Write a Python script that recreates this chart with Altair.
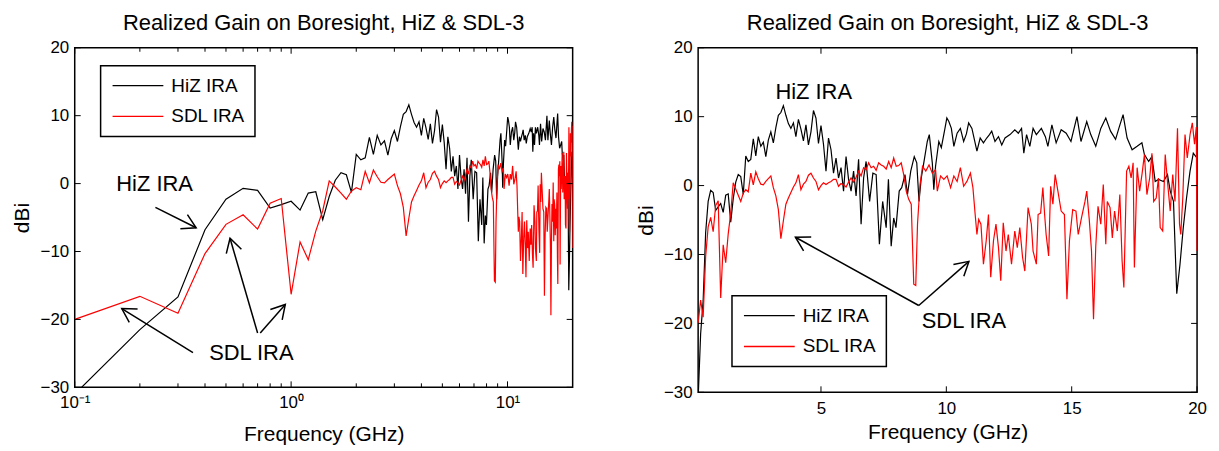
import math
import altair as alt
import pandas as pd

FONT = "Liberation Sans"
TITLE = "Realized Gain on Boresight, HiZ & SDL-3"
XTITLE = "Frequency (GHz)"
YTITLE = "dBi"
SERIES = ["HiZ IRA", "SDL IRA"]
COLORS = ["#000000", "#ff0000"]

# ---------------- data ----------------
hiz_freq = [0.1, 0.2, 0.3, 0.4, 0.5, 0.6, 0.7, 0.8, 0.9, 1.0, 1.1, 1.2, 1.3, 1.4, 1.5, 1.6, 1.7, 1.8, 1.9, 2.0,
            2.1, 2.2, 2.3, 2.4, 2.5, 2.6, 2.7, 2.8, 2.9, 3.0, 3.1, 3.2, 3.3, 3.4, 3.5, 3.6, 3.7, 3.8, 3.9, 4.0,
            4.1, 4.2, 4.3, 4.4, 4.5, 4.6, 4.7, 4.8, 4.9, 5.0, 5.1, 5.2, 5.3, 5.4, 5.5, 5.6, 5.7, 5.8, 5.9, 6.0,
            6.1, 6.2, 6.3, 6.4, 6.5, 6.6, 6.7, 6.8, 6.94, 7.07, 7.2, 7.33, 7.46, 7.6, 7.69, 7.8, 7.9, 7.99,
            8.12, 8.22, 8.35, 8.45, 8.58, 8.72, 8.82, 8.91, 9.0, 9.11, 9.24, 9.32, 9.44, 9.5, 9.57, 9.7, 9.8,
            9.93, 10.02, 10.1, 10.2, 10.3, 10.43, 10.56, 10.69, 10.8, 10.89, 11.02, 11.22, 11.35, 11.48, 11.61,
            11.72, 11.81, 11.94, 12.08, 12.21, 12.34, 12.54, 12.73, 12.87, 13.0, 13.09, 13.2, 13.33, 13.46,
            13.59, 13.79, 13.95, 14.05, 14.21, 14.38, 14.58, 14.78, 14.97, 15.21, 15.37, 15.6, 15.76, 15.96,
            16.16, 16.36, 16.55, 16.75, 16.88, 17.05, 17.21, 17.41, 17.61, 17.8, 17.9, 18.07, 18.2, 18.33,
            18.46, 18.66, 18.82, 18.93, 19.06, 19.19, 19.32, 19.45, 19.58, 19.72, 19.85, 20.0]
hiz_gain = [-31, -21.5, -16.7, -6.8, -2.3, -0.7, -1.0, -3.6, -3.1, -2.6, -3.9, -1.4, -1.2, -5.3, -1.9, 0.5, 1.6, 1.3, -1.3, 4.3,
            3.5, 3.8, 6.8, 4.3, 7.1, 5.7, 6.3, 4.2, 6.6, 7.8, 6.2, 8.4, 10.2, 10.6, 11.6, 10.2, 9.0, 8.3, 9.1, 7.1,
            9.6, 8.2, 6.5, 8.8, 5.9, 7.8, 10.9, 9.8, 6.1, 8.7, 6.0, 2.1, 6.9, 5.2, 1.8, 4.0, 1.1, 2.6, -0.8, 4.2,
            0.9, -0.8, 2.1, -1.5, 3.8, -5.6, 1.1, 3.5, -2.3, 1.8, 1.6, -8.5, -2.3, -6.1, 0.9, -8.8, -4.7, -6.1,
            -0.8, -0.3, 1.6, -1.3, 2.1, 4.2, 3.3, -2.3, 1.1, 3.5, 6.4, 7.4, 3.3, -0.6, 2.8, 6.4, 5.5,
            8.0, 9.8, 9.3, 8.3, 5.7, 7.6, 8.3, 6.4, 7.5, 9.1, 8.3, 5.0, 6.9, 6.2, 6.9,
            7.4, 7.9, 6.4, 7.1, 5.9, 6.9, 7.4, 8.1, 7.6, 8.3, 4.7, 7.4, 5.7, 8.3,
            7.4, 8.3, 7.1, 5.7, 8.8, 6.2, 8.1, 7.6, 6.4, 10.0, 6.4, 9.3, 7.4, 5.7,
            8.3, 9.8, 7.9, 6.7, 8.3, 10.3, 6.9, 5.2, 5.7, 6.2, 4.5, 3.5, 4.2, 0.6,
            0.9, 0.6, 1.6, -0.8, -2.3, -15.7, -11.4, -6.1, -1.8, 2.1, 4.7, 4.0]

sdl_freq = [0.1, 0.2, 0.3, 0.4, 0.5, 0.6, 0.7, 0.8, 0.9, 1.0, 1.1, 1.2, 1.3, 1.4, 1.5, 1.6, 1.7, 1.8, 1.9, 2.0,
            2.1, 2.2, 2.3, 2.4, 2.5, 2.6, 2.7, 2.8, 2.9, 3.0, 3.1, 3.2, 3.3, 3.4, 3.5, 3.6, 3.7, 3.8, 3.9, 4.0,
            4.1, 4.2, 4.3, 4.4, 4.5, 4.6, 4.7, 4.8, 4.9, 5.0, 5.1, 5.2, 5.3, 5.4, 5.5, 5.6, 5.7, 5.8, 5.9, 6.0,
            6.1, 6.2, 6.3, 6.4, 6.5, 6.6, 6.7, 6.8, 6.9, 7.0, 7.1, 7.2, 7.3, 7.4, 7.5, 7.6, 7.7, 7.8, 7.9, 8.0,
            8.1, 8.2, 8.3, 8.4, 8.5, 8.6, 8.7, 8.78, 8.85, 8.95, 9.05, 9.18, 9.31, 9.44, 9.57, 9.64, 9.77, 9.9,
            10.03, 10.17, 10.3, 10.43, 10.56, 10.69, 10.82, 10.96, 11.06, 11.15, 11.22, 11.29, 11.38, 11.48,
            11.59, 11.68, 11.77, 11.88, 11.98, 12.08, 12.17, 12.27, 12.38, 12.47, 12.6, 12.73, 12.83, 12.93,
            13.04, 13.13, 13.26, 13.39, 13.46, 13.59, 13.66, 13.76, 13.85, 13.92, 13.98, 14.08, 14.16, 14.25,
            14.34, 14.45, 14.58, 14.71, 14.81, 14.91, 15.04, 15.17, 15.26, 15.39, 15.53, 15.6, 15.7, 15.79,
            15.87, 15.96, 16.05, 16.16, 16.26, 16.36, 16.42, 16.53, 16.62, 16.71, 16.82, 16.92, 17.01, 17.08,
            17.19, 17.28, 17.37, 17.45, 17.5, 17.61, 17.71, 17.81, 17.9, 18.0, 18.11, 18.2, 18.27, 18.37,
            18.46, 18.53, 18.63, 18.73, 18.82, 18.93, 19.03, 19.12, 19.22, 19.3, 19.35, 19.43, 19.52, 19.61,
            19.72, 19.81, 19.9, 19.97, 20.0]
sdl_gain = [-20.0, -16.6, -19.1, -10.3, -6.0, -4.6, -6.7, -2.9, -2.2, -16.3, -8.6, -11.2, -7.0, -4.0, 0.4, -0.5, -1.4, -2.3, -1.1, -0.6,
            -0.9, 1.8, 0.1, 2.0, 1.0, 0.2, 0.1, 0.6, 1.0, 1.4, -0.3, -1.5, -3.5, -7.7, -5.1, -2.7, -1.8, -1.0, -0.2, 0.4,
            1.6, -0.6, 0.2, 0.6, 1.5, 1.8, 1.1, 0.6, -0.6, 0.0, 0.4, 0.15, 0.4, 0.6, 0.9, 0.9, -0.1, 0.3, 0.1, -0.2,
            0.5, 1.1, 0.5, 1.2, 2.1, 1.4, 2.6, 2.3, 3.3, 2.6, 2.8, 2.2, 3.3, 3.0, 2.8, 2.4, 3.5, 2.6, 4.0, 2.8,
            2.9, 3.3, 1.6, -0.8, -2.0, -2.7, -14.3, -14.5, -5.6, 0.15, 2.8, 2.1, 3.0, 1.8, 2.3, -0.8, 1.4, 0.9,
            1.4, -0.3, 1.4, 0.6, 2.6, -0.1, 0.6, 1.8, -0.3, -4.2, -7.1, -4.9, -5.6, -11.4,
            -8.0, -4.2, -13.3, -8.0, -5.6, -9.0, -13.8, -5.4, -9.5, -7.1, -11.4, -6.6, -9.0, -6.1,
            -10.4, -12.4, -3.2, -5.6, -9.5, -11.4, -4.2, -4.0, -0.3, -4.2, -7.1, -10.2, -0.1, -2.7,
            1.6, -0.8, -3.7, -4.2, -16.5, -8.0, -3.5, -3.7, -7.1, -4.7, -2.3, -0.8, -4.9, -9.5,
            -19.4, -8.8, -3.0, -5.6, 0.15, -8.5, -2.3, -3.2, -7.6, -3.7, -6.6, -1.3, -10.9, -14.8,
            2.1, 2.8, 1.1, 3.3, -11.9, 2.6, -0.8, 1.8, 4.5, -1.3, 1.1, 4.7, -2.3, -1.8,
            1.1, -6.1, -6.6, 4.5, 0.6, -3.7, 1.6, -2.3, 8.3, -5.6, -7.1, -1.8, 7.4, 4.0,
            7.4, 9.1, 6.0, 8.5, -9.5]

y_tick_values = [-30, -20, -10, 0, 10, 20]
log_major_ticks = [0.1, 1, 10]
log_minor_ticks = [0.2, 0.3, 0.4, 0.5, 0.6, 0.7, 0.8, 0.9, 2, 3, 4, 5, 6, 7, 8, 9]
lin_ticks = [5, 10, 15, 20]

# annotations (data coordinates)
left_labels = ["HiZ IRA", "SDL IRA"]
left_label_f = [0.234, 0.655]
left_label_g = [0.0, -24.9]
left_arrow_f0 = [0.236, 0.352, 0.70, 0.72]
left_arrow_g0 = [-3.5, -24.9, -22.0, -22.0]
left_arrow_f1 = [0.364, 0.165, 0.522, 0.94]
left_arrow_g1 = [-6.5, -18.4, -8.05, -17.8]

right_labels = ["HiZ IRA", "SDL IRA"]
right_label_f = [4.71, 10.7]
right_label_g = [13.6, -19.6]
right_arrow_f0 = [8.9, 8.9]
right_arrow_g0 = [-17.4, -17.4]
right_arrow_f1 = [3.98, 10.9]
right_arrow_g1 = [-7.5, -11.0]

assert len(hiz_freq) == len(hiz_gain)
assert len(sdl_freq) == len(sdl_gain)

lines_df = pd.concat([
    pd.DataFrame({"freq": hiz_freq, "gain": hiz_gain, "series": SERIES[0], "k": 0}),
    pd.DataFrame({"freq": sdl_freq, "gain": sdl_gain, "series": SERIES[1], "k": 1}),
], ignore_index=True)

Y_DOMAIN = [-30, 20]
X_DOMAIN = [0.1, 20]
ARROW_PATH = "M-0.5,0.87L0,0L0.5,0.87"


def arrow_df(f0, g0, f1, g1, W, H, log):
    def px(f):
        if log:
            return (math.log10(f) - math.log10(X_DOMAIN[0])) / (math.log10(X_DOMAIN[1]) - math.log10(X_DOMAIN[0])) * W
        return (f - X_DOMAIN[0]) / (X_DOMAIN[1] - X_DOMAIN[0]) * W

    def py(g):
        return (Y_DOMAIN[1] - g) / (Y_DOMAIN[1] - Y_DOMAIN[0]) * H

    angles = []
    for a, b, c, d in zip(f0, g0, f1, g1):
        dx = px(c) - px(a)
        dy = py(d) - py(b)
        angles.append(math.degrees(math.atan2(dx, -dy)) % 360)
    return pd.DataFrame({"f0": f0, "g0": g0, "f1": f1, "g1": g1, "ang": angles})


def panel(W, H, log, legend_xy, xtitle_y, x_label_pad):
    if log:
        xscale = alt.Scale(type="log", domain=X_DOMAIN, nice=False)
        xaxis = alt.Axis(values=log_major_ticks,
                         labelExpr="datum.value < 0.5 ? '10\u207b\u00b9' : (datum.value < 5 ? '10\u2070' : '10\u00b9')",
                         labelPadding=x_label_pad, titleY=xtitle_y, titleX=W / 2,
                         titleBaseline="middle", labelFlush=False)
    else:
        xscale = alt.Scale(type="linear", domain=X_DOMAIN, nice=False, zero=False)
        xaxis = alt.Axis(values=lin_ticks, format="d", labelPadding=x_label_pad,
                         titleY=xtitle_y, titleX=W / 2, titleBaseline="middle", labelFlush=False)
    yscale = alt.Scale(domain=Y_DOMAIN, nice=False, zero=False)
    yaxis = alt.Axis(values=y_tick_values, labelPadding=6, titleX=-52, titleY=H / 2,
                     titleAngle=270, titleAlign="center", titleBaseline="middle", labelFlush=False)

    lines = alt.Chart(lines_df).mark_line(clip=True, strokeWidth=1.2).encode(
        x=alt.X("freq:Q", scale=xscale, axis=xaxis, title=XTITLE),
        y=alt.Y("gain:Q", scale=yscale, axis=yaxis, title=YTITLE),
        color=alt.Color("series:N", scale=alt.Scale(domain=SERIES, range=COLORS),
                        legend=alt.Legend(orient="none", legendX=legend_xy[0], legendY=legend_xy[1], title=None,
                                          symbolType="stroke", symbolSize=2600, symbolStrokeWidth=1.3,
                                          labelFontSize=19, labelFont=FONT, labelColor="black",
                                          strokeColor="black", fillColor="white", padding=10,
                                          clipHeight=20, rowPadding=11, labelOffset=7, symbolOffset=1)),
        detail="k:N",
    )

    xmaj = log_major_ticks if log else lin_ticks
    xmaj_df = pd.DataFrame({"v": xmaj})
    xmin_df = pd.DataFrame({"v": log_minor_ticks if log else []})
    y_df = pd.DataFrame({"v": y_tick_values})
    L, Lm = 6, 4

    def xt(df, y0, y1):
        return alt.Chart(df).mark_rule(color="black", strokeWidth=1).encode(
            x=alt.X("v:Q", title=XTITLE), y=alt.value(y0), y2=alt.value(y1))

    def yt(x0, x1):
        return alt.Chart(y_df).mark_rule(color="black", strokeWidth=1).encode(
            y=alt.Y("v:Q", title=YTITLE), x=alt.value(x0), x2=alt.value(x1))

    ticks = [xt(xmaj_df, H, H - L), xt(xmaj_df, 0, L), yt(0, L), yt(W, W - L)]
    if log:
        ticks += [xt(xmin_df, H, H - Lm), xt(xmin_df, 0, Lm)]

    if log:
        tdf = pd.DataFrame({"f": left_label_f, "g": left_label_g, "t": left_labels})
        adf = arrow_df(left_arrow_f0, left_arrow_g0, left_arrow_f1, left_arrow_g1, W, H, True)
    else:
        tdf = pd.DataFrame({"f": right_label_f, "g": right_label_g, "t": right_labels})
        adf = arrow_df(right_arrow_f0, right_arrow_g0, right_arrow_f1, right_arrow_g1, W, H, False)

    texts = alt.Chart(tdf).mark_text(font=FONT, fontSize=22, color="black", align="center",
                                     baseline="middle").encode(
        x=alt.X("f:Q", title=XTITLE), y=alt.Y("g:Q", title=YTITLE), text="t:N")
    shafts = alt.Chart(adf).mark_rule(color="black", strokeWidth=1.5).encode(
        x=alt.X("f0:Q", title=XTITLE), y=alt.Y("g0:Q", title=YTITLE), x2="f1:Q", y2="g1:Q")
    heads = alt.Chart(adf).mark_point(shape=ARROW_PATH, filled=False, color="black", strokeWidth=1.5,
                                      size=1000, opacity=1).encode(
        x=alt.X("f1:Q", title=XTITLE), y=alt.Y("g1:Q", title=YTITLE),
        angle=alt.Angle("ang:Q", scale=None))

    return alt.layer(lines, *ticks, shafts, heads, texts).properties(
        width=W, height=H,
        title=alt.TitleParams(TITLE, font=FONT, fontSize=22, fontWeight="normal", anchor="middle",
                              offset=4, color="black"),
    )


left = panel(500, 341, True, (26, 18), 47, 7)
right = panel(501, 346, False, (34, 249), 40, 8)

chart = alt.hconcat(left, right, spacing=60).resolve_scale(color="independent").resolve_legend(
    color="independent"
).properties(padding={"left": 3, "top": 2, "right": 3, "bottom": 2}).configure_view(
    stroke="black", strokeWidth=1.5
).configure_axis(
    labelFont=FONT, labelFontSize=17, labelColor="black", titleFont=FONT, titleFontSize=21,
    titleFontWeight="normal", titleColor="black", ticks=False, domain=False, grid=False
).configure_legend(strokeWidth=1.5)

chart.save("out.html", embed_options={"renderer": "svg", "actions": False})
